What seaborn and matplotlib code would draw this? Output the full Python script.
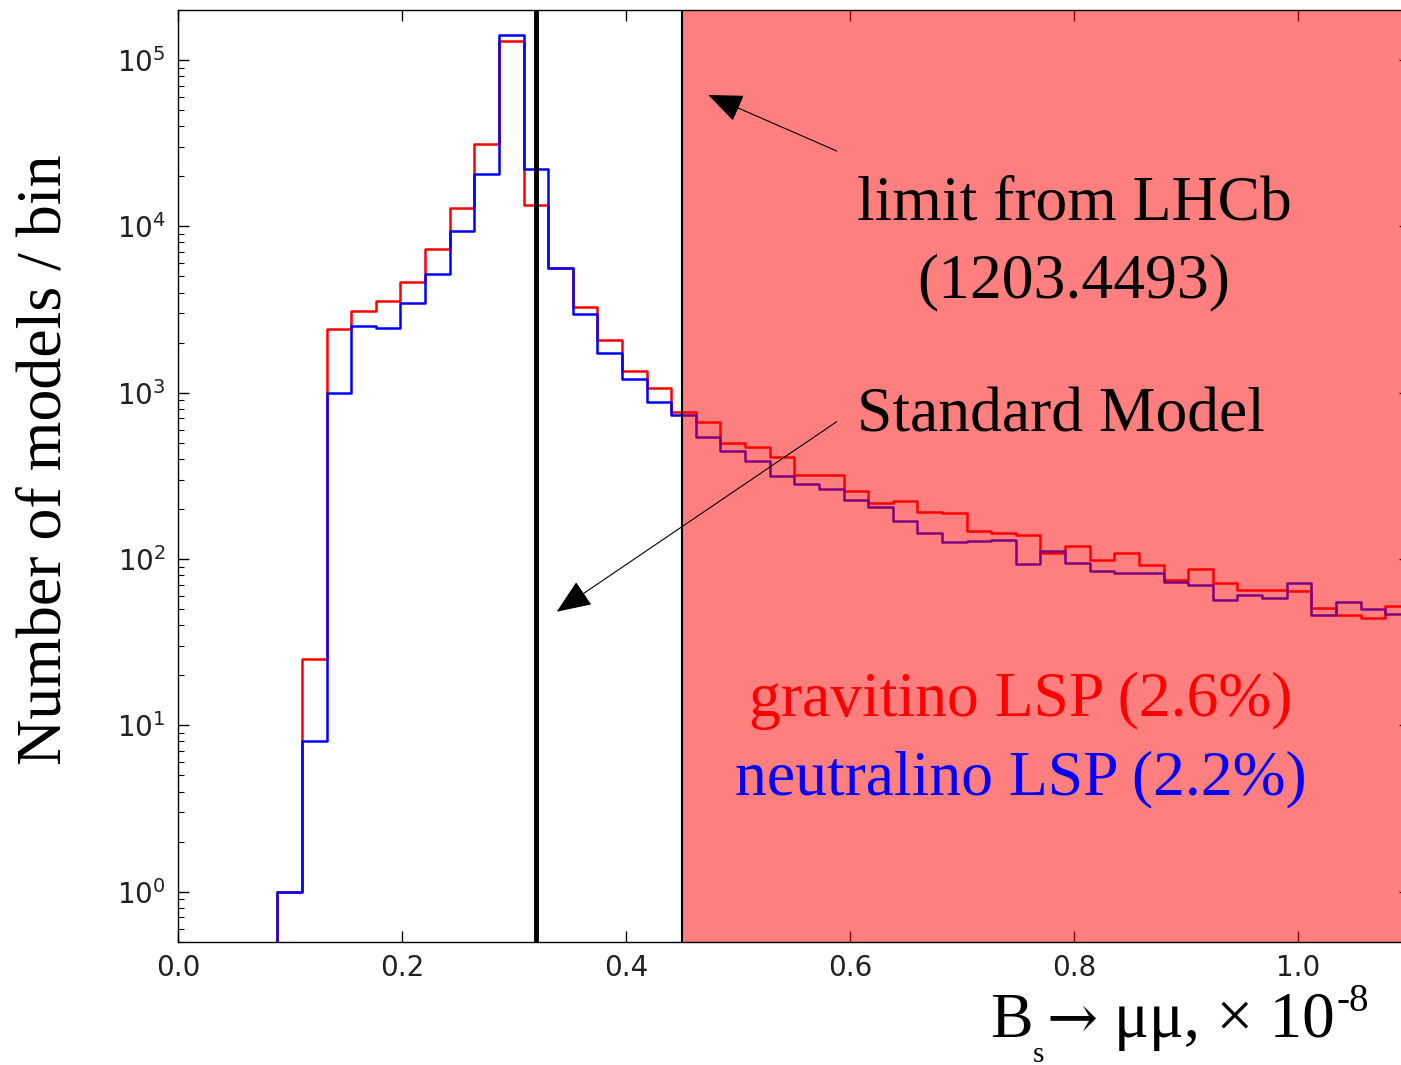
import numpy as np
import pandas as pd
import matplotlib
matplotlib.use("Agg")
import matplotlib.pyplot as plt
import seaborn as sns

# ---------------- data ----------------
bin_start = 0.0887          # left edge of first filled bin (x 1e-8)
bin_width = 0.02198         # histogram bin width
gravitino_counts = [1, 25, 2430, 3100, 3560, 4630, 7340, 12950, 31400, 130000,
                    13400, 5650, 3280, 2070, 1350, 1065, 765, 667, 501, 474,
                    413, 321, 321, 257, 216, 222, 192, 189, 148, 144,
                    140, 108, 120, 99, 108, 92, 75, 87, 72, 65,
                    65, 64, 51, 46, 44, 52]
neutralino_counts = [1, 8, 1000, 2520, 2460, 3450, 5150, 9380, 20560, 141000,
                     22000, 5650, 2960, 1727, 1216, 885, 735, 543, 447, 389,
                     316, 282, 263, 226, 206, 170, 144, 126, 129, 130,
                     93, 111, 95, 85, 82, 82, 73, 70, 57, 61,
                     58, 72, 46, 55, 50, 47]
sm_value = 0.32
lhcb_limit = 0.45
x_max = 1.1
y_limits = (0.5, 2e5)
x_ticks = [0.0, 0.2, 0.4, 0.6, 0.8, 1.0]

# ---------------- style ----------------
sns.set_theme(style="ticks")
plt.rcParams["font.family"] = ["DejaVu Sans"]
plt.rcParams["axes.edgecolor"] = "black"
plt.rcParams["xtick.color"] = "black"
plt.rcParams["ytick.color"] = "black"

W, H = 1401, 1065
fig = plt.figure(figsize=(W / 100, H / 100), dpi=100, facecolor="white")
ax = fig.add_axes([178 / W, (H - 941.7) / H, 1232 / W, 931.7 / H])
ax.set_facecolor("white")

def f(x, y):
    return (x / W, 1 - y / H)

n = len(gravitino_counts)
edges = list(bin_start + bin_width * np.arange(-1, n + 1))
centers = bin_start + bin_width * (np.arange(n) + 0.5)
df = pd.DataFrame({"x": centers,
                   "gravitino": gravitino_counts,
                   "neutralino": neutralino_counts})

sns.histplot(data=df, x="x", weights="gravitino", bins=edges, element="step",
             fill=False, color="red", linewidth=1.8, ax=ax)
sns.histplot(data=df, x="x", weights="neutralino", bins=edges, element="step",
             fill=False, color="blue", linewidth=1.8, ax=ax)

ax.set_yscale("log")
ax.set_xlim(0, x_max)
ax.set_ylim(*y_limits)
ax.set_xticks(x_ticks)
ax.set_xticklabels([f"{t:.1f}" for t in x_ticks])
ax.set_xlabel("")
ax.set_ylabel("")

ax.axvspan(lhcb_limit, x_max, facecolor="red", alpha=0.5, lw=0, zorder=2.2)
ax.axvline(lhcb_limit, color="black", lw=1.5, zorder=2.3)
ax.axvline(sm_value, color="black", lw=3.5, zorder=2.4)

for s in ax.spines.values():
    s.set_linewidth(1.0)
    s.set_color("black")
    s.set_zorder(2.6)

ax.tick_params(which="major", direction="in", top=True, right=True,
               length=8, width=1, labelsize=20, pad=9, labelcolor="#222222")
ax.tick_params(which="minor", direction="in", top=True, right=True,
               length=4.5, width=0.8)
ax.tick_params(axis="x", which="minor", bottom=False, top=False)

# ---------------- annotations ----------------
serif = ["Liberation Serif", "DejaVu Serif"]
fs = 45.8
fig.text(*f(1074, 220), "limit from LHCb", ha="center", va="baseline",
         fontsize=fs, family=serif, color="black")
fig.text(*f(1074, 297), "(1203.4493)", ha="center", va="baseline",
         fontsize=fs, family=serif, color="black")
fig.text(*f(857, 431), "Standard Model", ha="left", va="baseline",
         fontsize=fs, family=serif, color="black")
fig.text(*f(1021, 716), "gravitino LSP (2.6%)", ha="center", va="baseline",
         fontsize=fs, family=serif, color="red")
fig.text(*f(1021, 794), "neutralino LSP (2.2%)", ha="center", va="baseline",
         fontsize=fs, family=serif, color="blue")

arrow_kw = dict(arrowstyle="-|>,head_length=2.2,head_width=0.9",
                mutation_scale=10, color="black", lw=0.8, shrinkA=0, shrinkB=0)
ax.annotate("", xy=f(708.3, 95), xycoords="figure fraction",
            xytext=f(836.7, 151), textcoords="figure fraction",
            arrowprops=arrow_kw, zorder=5)
ax.annotate("", xy=f(556.7, 611.7), xycoords="figure fraction",
            xytext=f(836.7, 421.7), textcoords="figure fraction",
            arrowprops=arrow_kw, zorder=5)

fig.text(*f(46, 460), "Number of models / bin", rotation=90, ha="center",
         va="center", fontsize=46, family=serif, color="black")

# x-axis label, composed of pieces like the slide text
fig.text(*f(990, 1036.7), "B", ha="left", va="baseline",
         fontsize=46, family=serif, color="black")
fig.text(*f(1033, 1061.7), "s", ha="left", va="baseline",
         fontsize=21, family=serif, color="black")
fig.text(*f(1046, 1036.7), "→", ha="left", va="baseline",
         fontsize=44, family=["DejaVu Serif"], color="black")
fig.text(*f(1114, 1036.7), "μμ, × 10", ha="left", va="baseline",
         fontsize=47, family=serif, color="black")
fig.text(*f(1336, 1011), "-8", ha="left", va="baseline",
         fontsize=28, family=serif, color="black")

fig.savefig("out.png", dpi=100, facecolor="white")
